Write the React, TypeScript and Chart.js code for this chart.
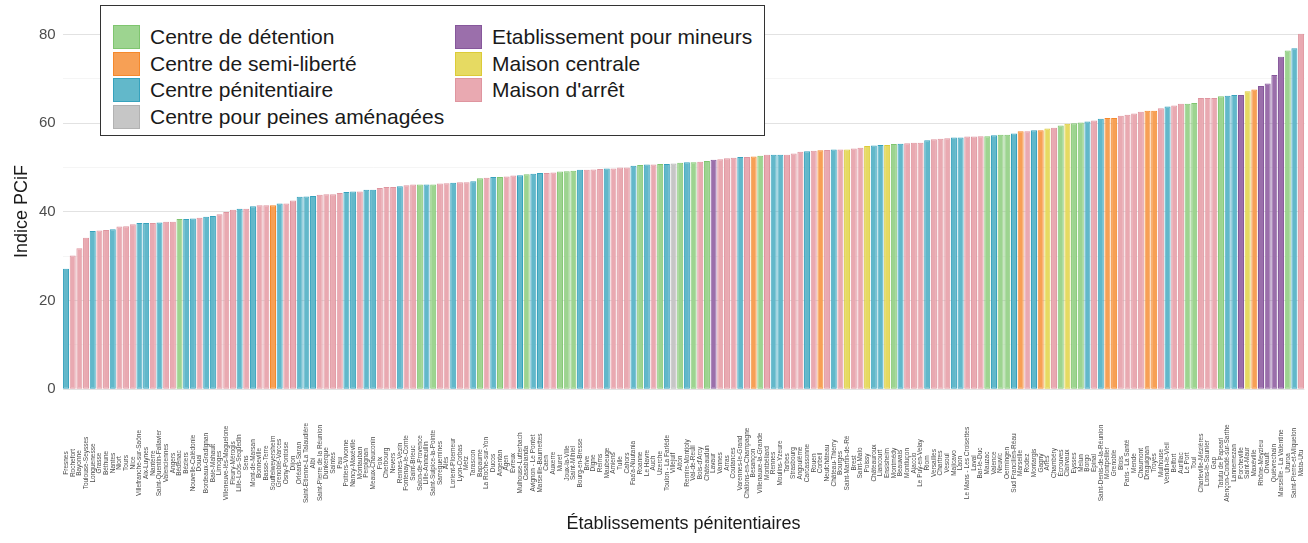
import React, { useEffect, useRef } from 'react';
import { Chart, registerables } from 'chart.js';

Chart.register(...registerables);

const FONT = '"Liberation Sans", Arial, Helvetica, sans-serif';

const establishments: string[] = [
  'Fresnes', 'Rochefort', 'Bayonne', 'Toulouse-Seysses', 'Longuenesse', 'Grasse', 'Béthune', 'Nantes', 'Niort', 'Tours',
  'Nice', 'Villefranche-sur-Saône', 'Aix-Luynes', 'Nanterre', 'Saint-Quentin-Fallavier', 'Valenciennes', 'Angers', 'Bédenac', 'Béziers', 'Nouvelle-Calédonie',
  'Douai', 'Bordeaux-Gradignan', 'Baie-Mahault', 'Limoges', 'Villeneuve-lès-Maguelone', 'Fleury-Mérogis', 'Lille-Loos-Sequedin', 'Sens', 'Mont-de-Marsan', 'Bonneville',
  'Basse-Terre', 'Souffelweyersheim', 'Grenoble-Varces', 'Osny-Pontoise', 'Dijon', 'Orléans-Saran', 'Saint-Étienne-La Talaudière', 'Albi', 'Saint-Pierre de la Réunion', 'Dunkerque',
  'Saintes', 'Pau', 'Poitiers-Vivonne', 'Nancy-Maxéville', 'Montauban', 'Perpignan', 'Meaux-Chauconin', 'Foix', 'Cherbourg', 'Nevers',
  'Rennes-Vezin', 'Fontenay-le-Comte', 'Saint-Brieuc', 'Salon-de-Provence', 'Lille-Annœullin', 'Saint-Sulpice-la-Pointe', 'Sarreguemines', 'Alès', 'Lorient-Ploemeur', 'Lyon-Corbas',
  'Metz', 'Tarascon', 'Bapaume', 'La Roche-sur-Yon', 'Ducos', 'Argentan', 'Agen', 'Évreux', 'Mulhouse-Lutterbach', 'Casabianda',
  'Avignon - Le Pontet', 'Marseille-Baumettes', 'Caen', 'Auxerre', 'Muret', 'Joux-la-Ville', 'Saint-Mihiel', 'Bourg-en-Bresse', 'Brive', 'Digne',
  'Reims', 'Maubeuge', 'Amiens', 'Tulle', 'Cahors', "Faa'a-Nuutania", 'Roanne', 'Le Havre', 'Auch', 'Uzerche',
  'Toulon - La Farlède', 'Villejuif', 'Aiton', 'Remire-Montjoly', 'Val-de-Reuil', "Bois-d'Arcy", 'Châteaudun', 'Lavaur', 'Vannes', 'Arras',
  'Coutances', 'Varennes-le-Grand', 'Châlons-en-Champagne', 'Besançon', 'Villenauxe-la-Grande', 'Montbéliard', 'Rennes', 'Moulins-Yzeure', 'Tarbes', 'Strasbourg',
  'Angoulême', 'Carcassonne', 'Rouen', 'Corbeil', 'Neufchâteau', 'Château-Thierry', 'Bourges', 'Saint-Martin-de-Ré', 'Brest', 'Saint-Malo',
  'Poissy', 'Châteauroux', 'Liancourt', 'Ensisheim', 'Montmédy', 'Beauvais', 'Montluçon', 'Ajaccio', 'Le Puy-en-Velay', 'Riom',
  'Versailles', 'Chartres', 'Vesoul', 'Majicavo', 'Laon', 'Le Mans - Les Croisettes', 'Laval', 'Bar-le-Duc', 'Mauzac', 'Valence',
  'Neuvic', 'Oermingen', 'Sud Francilien-Réau', 'Marseille', 'Rodez', 'Montargis', 'Gagny', 'Arles', 'Chambéry', 'Écrouves',
  'Clairvaux', 'Eysses', 'Melun', 'Borgo', 'Épinal', 'Saint-Denis-de-la-Réunion', 'Montpellier', 'Grenoble', 'Blois', 'Paris - La Santé',
  'Mende', 'Chaumont', 'Draguignan', 'Troyes', 'Mulhouse', 'Vendin-le-Vieil', 'Belfort', 'Aurillac', 'Le Port', 'Toul',
  'Charleville-Mézières', 'Lons-le-Saunier', 'Gap', 'Tatutu de Papeari', 'Alençon-Condé-sur-Sarthe', 'Lannemezan', 'Porcheville', 'Saint-Maur', 'Maxéville', 'Rhône-Meyzieu',
  'Orvault', 'Quiévrechain', 'Marseille - La Valentine', 'Uturoa', 'Saint-Pierre-et-Miquelon', 'Mata-Utu',
];

const establishmentTypes: string[] = [
  'CP', 'MA', 'MA', 'MA', 'CP', 'MA', 'MA', 'CP', 'MA', 'MA',
  'MA', 'CP', 'CP', 'MA', 'CP', 'MA', 'MA', 'CD', 'CP', 'CP',
  'MA', 'CP', 'CP', 'MA', 'MA', 'MA', 'CP', 'MA', 'CP', 'MA',
  'MA', 'CSL', 'CP', 'MA', 'MA', 'CP', 'CP', 'CP', 'MA', 'MA',
  'MA', 'MA', 'CP', 'CP', 'MA', 'CP', 'CP', 'MA', 'MA', 'MA',
  'CP', 'MA', 'MA', 'CD', 'CP', 'CD', 'MA', 'MA', 'CP', 'MA',
  'MA', 'CP', 'CD', 'MA', 'CP', 'CD', 'MA', 'MA', 'CP', 'CD',
  'CP', 'CP', 'MA', 'MA', 'CD', 'CD', 'CD', 'CP', 'MA', 'MA',
  'MA', 'CP', 'MA', 'MA', 'MA', 'CP', 'CD', 'CP', 'MA', 'CD',
  'CP', 'CPA', 'CD', 'CP', 'CD', 'MA', 'CD', 'EPM', 'MA', 'MA',
  'MA', 'CP', 'MA', 'CSL', 'CD', 'MA', 'CP', 'CP', 'MA', 'MA',
  'MA', 'CP', 'MA', 'CSL', 'MA', 'CP', 'MA', 'MC', 'MA', 'MA',
  'MC', 'CP', 'CP', 'MC', 'CD', 'CP', 'MA', 'MA', 'MA', 'CP',
  'MA', 'MA', 'MA', 'CP', 'CP', 'MA', 'MA', 'MA', 'CD', 'CP',
  'CD', 'CD', 'CP', 'CSL', 'MA', 'CP', 'CSL', 'MC', 'MA', 'CD',
  'MC', 'CD', 'CD', 'CP', 'MA', 'CP', 'CSL', 'CSL', 'MA', 'MA',
  'MA', 'MA', 'CSL', 'CSL', 'MA', 'CP', 'MA', 'MA', 'CD', 'CD',
  'MA', 'MA', 'MA', 'CD', 'CP', 'CP', 'EPM', 'MC', 'CSL', 'EPM',
  'EPM', 'EPM', 'EPM', 'CD', 'CP', 'MA',
];

const pcifValues: number[] = [
  27.2, 30.2, 31.8, 34.2, 35.7, 35.8, 35.9, 36.1, 36.7, 36.8,
  37.2, 37.5, 37.5, 37.5, 37.6, 37.8, 37.8, 38.4, 38.4, 38.5,
  38.7, 38.9, 39.1, 39.5, 40.0, 40.5, 40.7, 40.7, 41.3, 41.5,
  41.5, 41.5, 41.9, 41.9, 42.6, 43.4, 43.5, 43.6, 43.9, 44.0,
  44.0, 44.3, 44.5, 44.6, 44.6, 45.0, 45.0, 45.4, 45.6, 45.6,
  45.8, 46.0, 46.2, 46.2, 46.2, 46.2, 46.4, 46.5, 46.6, 46.7,
  46.7, 46.9, 47.6, 47.7, 47.9, 47.9, 48.0, 48.2, 48.3, 48.5,
  48.6, 48.8, 48.8, 48.9, 49.1, 49.2, 49.3, 49.5, 49.5, 49.6,
  49.7, 49.8, 49.8, 50.0, 50.0, 50.4, 50.6, 50.7, 50.7, 50.8,
  50.8, 50.9, 51.1, 51.2, 51.2, 51.3, 51.5, 51.8, 51.9, 52.1,
  52.2, 52.4, 52.4, 52.5, 52.7, 52.9, 52.9, 52.9, 52.9, 53.2,
  53.6, 53.7, 53.8, 53.9, 54.0, 54.1, 54.1, 54.1, 54.3, 54.5,
  54.9, 55.0, 55.1, 55.1, 55.3, 55.4, 55.5, 55.6, 55.6, 56.2,
  56.4, 56.5, 56.6, 56.8, 56.8, 57.0, 57.0, 57.1, 57.1, 57.3,
  57.4, 57.4, 57.7, 58.2, 58.2, 58.4, 58.4, 58.8, 59.0, 59.5,
  59.9, 60.0, 60.2, 60.4, 60.6, 61.0, 61.2, 61.2, 61.7, 61.9,
  62.2, 62.6, 62.8, 62.8, 63.4, 63.8, 64.0, 64.4, 64.4, 64.6,
  65.7, 65.7, 65.7, 66.1, 66.2, 66.4, 66.4, 67.2, 67.6, 68.4,
  69.0, 70.9, 75.0, 76.4, 76.9, 80.2,
];

const typeKeys: string[] = ['CD', 'CSL', 'CP', 'CPA', 'EPM', 'MC', 'MA'];
const typeLabels: string[] = [
  'Centre de détention',
  'Centre de semi-liberté',
  'Centre pénitentiaire',
  'Centre pour peines aménagées',
  'Etablissement pour mineurs',
  'Maison centrale',
  "Maison d'arrêt",
];
const typeFill: string[] = ['#9dd490', '#f7a055', '#62b8ca', '#c6c6c6', '#9b6fab', '#e6da62', '#e9a9b1'];
const typeBorder: string[] = ['#7fc56f', '#f5892c', '#36a2bd', '#b2b2b2', '#86579b', '#dccb38', '#df959f'];

const yTickValues: number[] = [0, 10, 20, 30, 40, 50, 60, 70, 80];
const yTitle = 'Indice PCiF';
const xTitle = 'Établissements pénitentiaires';

const xLabelPlugin = {
  id: 'xRotatedLabels',
  afterDraw(chart: any) {
    const { ctx } = chart;
    const xs = chart.scales.x;
    const centerY = xs.top + 56;
    ctx.save();
    ctx.font = `6.5px ${FONT}`;
    ctx.fillStyle = '#4a4a4a';
    ctx.textAlign = 'center';
    ctx.textBaseline = 'middle';
    establishments.forEach((name, i) => {
      const x = xs.getPixelForValue(i);
      ctx.save();
      ctx.translate(x, centerY);
      ctx.rotate(-Math.PI / 2);
      ctx.fillText(name, 0, 0);
      ctx.restore();
    });
    ctx.restore();
  },
};

export default function App() {
  const canvasRef = useRef<HTMLCanvasElement | null>(null);

  useEffect(() => {
    if (!canvasRef.current) return;
    const datasets = typeKeys.map((key, k) => ({
      label: typeLabels[k],
      data: pcifValues.map((v, i) => (establishmentTypes[i] === key ? v : null)),
      backgroundColor: typeFill[k],
      borderColor: typeBorder[k],
      borderWidth: 1,
      borderSkipped: false as const,
      grouped: false,
      barPercentage: 0.9,
      categoryPercentage: 1,
    }));

    const chart = new Chart(canvasRef.current, {
      type: 'bar',
      data: { labels: establishments, datasets: datasets as any },
      options: {
        animation: false,
        responsive: true,
        maintainAspectRatio: false,
        layout: { padding: { left: 0, right: 3.6, top: 12, bottom: 0 } },
        plugins: {
          legend: { display: false },
          tooltip: { enabled: false },
        },
        scales: {
          x: {
            type: 'category',
            offset: true,
            ticks: { display: false },
            grid: { display: false },
            border: { display: false },
            afterFit: (s: any) => {
              s.height = 136;
            },
            title: {
              display: true,
              text: xTitle,
              color: '#1a1a1a',
              font: { size: 18, family: FONT },
              padding: { top: 0, bottom: 8 },
            },
          },
          y: {
            min: -4,
            max: 84.2,
            afterBuildTicks: (s: any) => {
              s.ticks = yTickValues.map((v) => ({ value: v }));
            },
            afterFit: (s: any) => {
              s.width = 62.7;
            },
            ticks: {
              callback: (v: any) => (Number(v) % 20 === 0 ? String(v) : ''),
              color: '#4d4d4d',
              font: { size: 15, family: FONT },
              padding: 7,
            },
            grid: {
              drawTicks: false,
              color: (c: any) => (c.tick && c.tick.value % 20 === 0 ? '#e2e2e2' : '#f1f1f1'),
              lineWidth: (c: any) => (c.tick && c.tick.value % 20 === 0 ? 1 : 0.7),
            },
            border: { display: false },
            title: {
              display: true,
              text: yTitle,
              color: '#1a1a1a',
              font: { size: 18, family: FONT },
              padding: { top: 11, bottom: 0 },
            },
          },
        },
      },
      plugins: [xLabelPlugin],
    });
    return () => chart.destroy();
  }, []);

  return (
    <div style={{ position: 'absolute', left: 0, top: 0, width: 1308, height: 543, background: '#ffffff' }}>
      <canvas ref={canvasRef} />
      <div
        style={{
          position: 'absolute',
          left: 100,
          top: 5,
          width: 665,
          height: 131,
          border: '1px solid #333333',
          background: '#ffffff',
          boxSizing: 'border-box',
          fontFamily: FONT,
          fontSize: 21,
          color: '#1a1a1a',
        }}
      >
        {typeLabels.map((lab, k) => {
          const col = k < 4 ? 0 : 1;
          const row = k < 4 ? k : k - 4;
          return (
            <div
              key={lab}
              style={{
                position: 'absolute',
                left: col === 0 ? 12 : 354,
                top: 18 + row * 26.5,
                height: 26.5,
                display: 'flex',
                alignItems: 'center',
                whiteSpace: 'nowrap',
              }}
            >
              <span
                style={{
                  display: 'inline-block',
                  width: 27,
                  height: 24,
                  background: typeFill[k],
                  border: `1px solid ${typeBorder[k]}`,
                  boxSizing: 'border-box',
                  marginRight: 10,
                }}
              />
              <span>{lab}</span>
            </div>
          );
        })}
      </div>
    </div>
  );
}
